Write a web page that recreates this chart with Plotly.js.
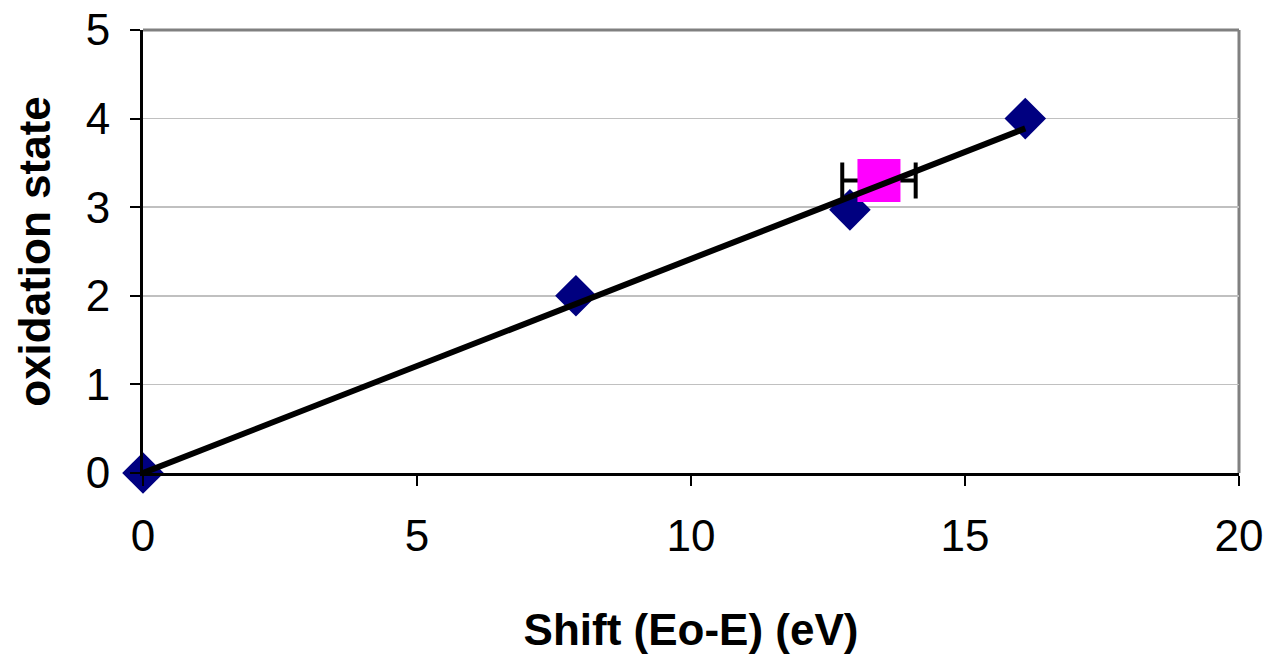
<!DOCTYPE html>
<html>
<head>
<meta charset="utf-8">
<script src="https://cdn.plot.ly/plotly-3.0.1.min.js"></script>
<style>html,body{margin:0;padding:0;background:#fff;}#chart{width:1267px;height:654px;}</style>
</head>
<body>
<div id="chart"></div>
<script>
// Reference standards: energy shift vs oxidation state
const shiftX = [0, 7.9, 12.9, 16.1];
const oxState = [0, 2.0, 2.97, 4.0];
// Sample point with horizontal error
const sampleX = [13.43];
const sampleY = [3.3];
const sampleErrX = [0.67];
// Linear trend line endpoints
const trendX = [0, 16.1];
const trendY = [0, 3.89];
// Axis ticks
const xTicks = [0, 5, 10, 15, 20];
const yTicks = [0, 1, 2, 3, 4, 5];

const FONT = 'Liberation Sans, Arial, sans-serif';

const traces = [
  {
    x: shiftX, y: oxState, type: 'scatter', mode: 'markers',
    marker: {symbol: 'diamond', size: 32, color: '#000080', line: {width: 0}},
    showlegend: false, cliponaxis: false
  },
  {
    x: sampleX, y: sampleY, type: 'scatter', mode: 'markers',
    marker: {symbol: 'square', size: 43, color: '#FF00FF', line: {width: 0}},
    error_x: {type: 'data', array: sampleErrX, visible: true, color: '#000000', thickness: 4, width: 18},
    showlegend: false, cliponaxis: false
  },
  {
    x: trendX, y: trendY, type: 'scatter', mode: 'lines',
    line: {color: '#000000', width: 6},
    showlegend: false, cliponaxis: false
  }
];

const layout = {
  width: 1267, height: 654,
  margin: {l: 143, r: 28, t: 30, b: 181},
  paper_bgcolor: '#ffffff', plot_bgcolor: '#ffffff',
  font: {family: FONT, color: '#000000', size: 44},
  showlegend: false,
  xaxis: {
    range: [0, 20], tickvals: xTicks, ticktext: xTicks.map(String),
    showgrid: false, zeroline: false,
    showline: true, linecolor: '#000000', linewidth: 3,
    ticks: 'outside', ticklen: 10, tickwidth: 2, tickcolor: '#000000',
    tickfont: {family: FONT, size: 44, color: '#000000'},
    ticklabelstandoff: 12,
    title: {text: '<b>Shift (Eo-E) (eV)</b>', font: {family: FONT, size: 44, color: '#000000'}, standoff: 56}
  },
  yaxis: {
    range: [0, 5], tickvals: yTicks, ticktext: yTicks.map(String),
    showgrid: true, gridcolor: '#c0c0c0', gridwidth: 1.5, zeroline: false,
    showline: true, linecolor: '#000000', linewidth: 3,
    ticks: 'outside', ticklen: 10, tickwidth: 2, tickcolor: '#000000',
    tickfont: {family: FONT, size: 44, color: '#000000'},
    ticklabelstandoff: 11,
    title: {text: '<b>oxidation state</b>', font: {family: FONT, size: 44, color: '#000000'}, standoff: 22}
  },
  shapes: [
    {type: 'line', xref: 'paper', yref: 'paper', x0: 0, x1: 1, y0: 1, y1: 1, line: {color: '#808080', width: 3}, layer: 'below'},
    {type: 'line', xref: 'paper', yref: 'paper', x0: 1, x1: 1, y0: 0, y1: 1, line: {color: '#808080', width: 3}, layer: 'below'}
  ]
};

Plotly.newPlot('chart', traces, layout, {displayModeBar: false, staticPlot: true});
</script>
</body>
</html>
